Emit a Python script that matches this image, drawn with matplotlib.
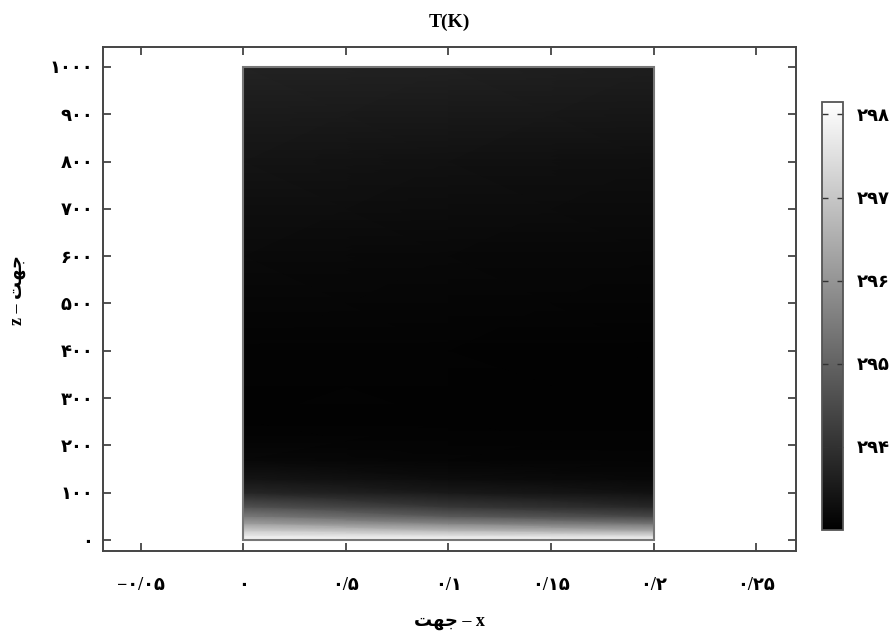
import numpy as np
import matplotlib
matplotlib.use("Agg")
import matplotlib.pyplot as plt
from matplotlib.patches import Rectangle

# Temperature field (rows = z levels, cols = x levels)
x_levels = [0.0, 0.1, 0.2]
z_levels = [0, 10, 20, 35, 50, 70, 100, 130, 170, 250, 400, 600, 800, 1000]
T_values = [
    [298.00, 298.00, 298.00],
    [297.64, 297.48, 297.33],
    [297.12, 296.71, 296.40],
    [296.19, 295.68, 295.32],
    [295.47, 294.85, 294.44],
    [294.65, 294.13, 293.82],
    [293.77, 293.52, 293.36],
    [293.41, 293.26, 293.18],
    [293.18, 293.12, 293.10],
    [293.05, 293.05, 293.05],
    [293.08, 293.08, 293.05],
    [293.21, 293.18, 293.15],
    [293.41, 293.36, 293.31],
    [293.72, 293.67, 293.62],
]

x_ticks = [-0.05, 0, 0.05, 0.1, 0.15, 0.2, 0.25]
x_tick_labels = ["−۰/۰۵", "۰", "۰/۵", "۰/۱", "۰/۱۵", "۰/۲", "۰/۲۵"]
z_ticks = [0, 100, 200, 300, 400, 500, 600, 700, 800, 900, 1000]
z_tick_labels = ["۰", "۱۰۰", "۲۰۰", "۳۰۰", "۴۰۰", "۵۰۰", "۶۰۰", "۷۰۰", "۸۰۰", "۹۰۰", "۱۰۰۰"]
cb_ticks = [294, 295, 296, 297, 298]
cb_tick_labels = ["۲۹۴", "۲۹۵", "۲۹۶", "۲۹۷", "۲۹۸"]

# "جهت" in presentation forms, visual order
word = "ﺖﻬﺟ"

fonts = ["Liberation Serif", "DejaVu Sans"]
plt.rcParams["font.family"] = fonts
plt.rcParams["font.weight"] = "bold"

fig = plt.figure(figsize=(8.89, 6.32), dpi=100)
ax = fig.add_axes([0.1159, 0.1282, 0.7795, 0.7974])
cax = fig.add_axes([0.9246, 0.1614, 0.0236, 0.6772])

mesh = ax.pcolormesh(x_levels, z_levels, np.array(T_values), shading="gouraud",
                     cmap="gray", vmin=293.0, vmax=298.15)
ax.add_patch(Rectangle((0, 0), 0.2, 1000, fill=False, edgecolor="#777777", lw=1.5))

ax.set_xlim(-0.0685, 0.2695)
ax.set_ylim(-23, 1042)
ax.set_xticks(x_ticks)
ax.set_xticklabels(x_tick_labels)
ax.set_yticks(z_ticks)
ax.set_yticklabels(z_tick_labels)
ax.tick_params(direction="in", length=6, width=1.3, color="#444444",
               top=True, right=True, labelsize=13)
ax.tick_params(axis="x", pad=19)
ax.tick_params(axis="y", pad=7)
for s in ax.spines.values():
    s.set_color("#444444")
    s.set_linewidth(1.4)

cb = fig.colorbar(mesh, cax=cax)
cb.set_ticks(cb_ticks)
cb.set_ticklabels(cb_tick_labels)
cb.outline.set_edgecolor("#555555")
cb.outline.set_linewidth(1.3)
cax.tick_params(direction="in", length=4, width=1, color="#333333",
                left=True, right=True, labelsize=13, pad=10)

fig.text(449.5 / 889, 1 - 22 / 632, "T(K)", ha="center", va="center",
         fontsize=14, fontweight="bold", family=fonts)
fig.text(449.5 / 889, 1 - 622 / 632, word + " – x", ha="center", va="center",
         fontsize=13, fontweight="bold", family=fonts)
fig.text(18 / 889, 1 - 290 / 632, "z – " + word, ha="center", va="center",
         rotation=90, fontsize=13, fontweight="bold", family=fonts)

fig.savefig("out.png", dpi=100)
